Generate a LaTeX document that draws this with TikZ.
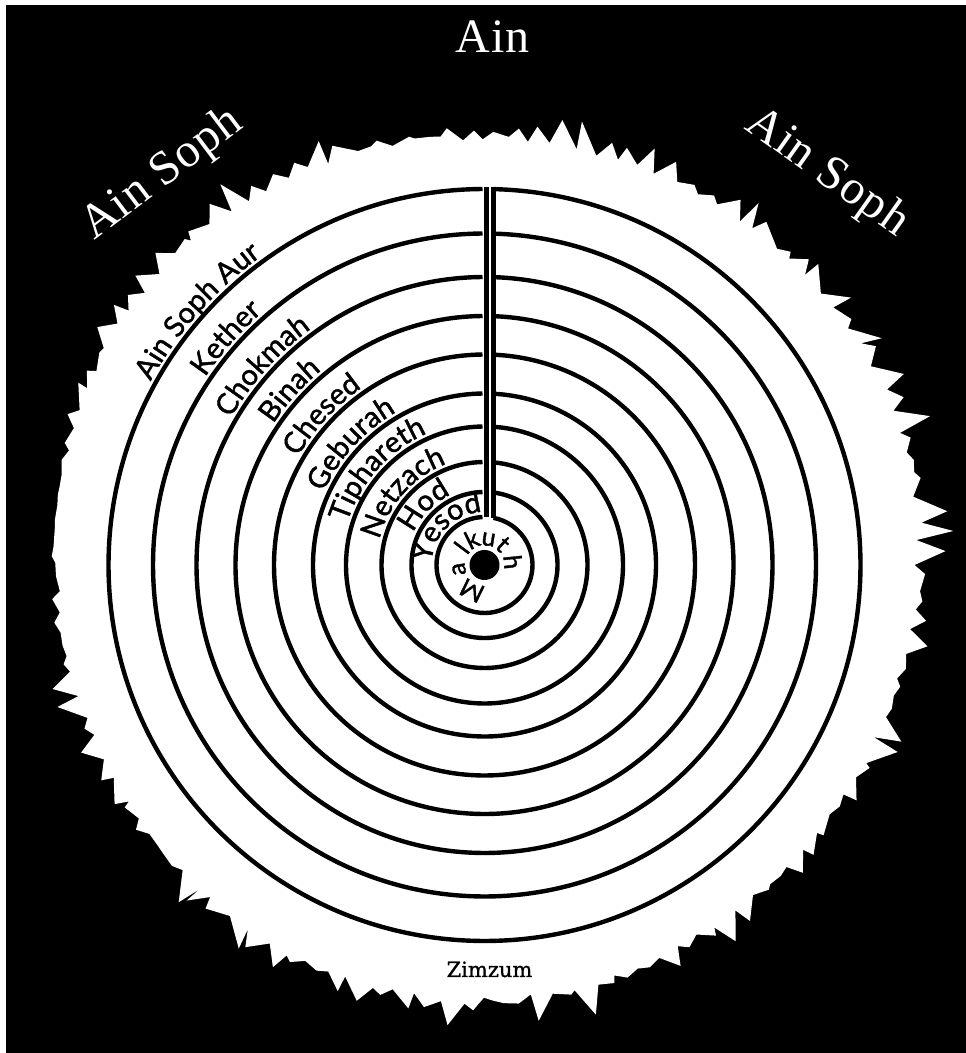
\documentclass[tikz,border=0pt]{standalone}
\usepackage{fontspec}
\setmainfont{Liberation Serif}
\newfontfamily\ainfont[LetterSpace=2]{Liberation Serif}
\newfontfamily\labfont[FakeBold=1.5]{Lato}
\newfontfamily\zimfont[FakeBold=1]{DejaVu Serif}
\usetikzlibrary{decorations.text}
\tikzset{
  ring/.style={draw=black, line width=4.4pt},
  channel/.style={draw=black, line width=4.4pt, line cap=butt},
  outertext/.style={text=white, font=\ainfont\fontsize{48}{48}\selectfont, inner sep=0pt, anchor=base},
  ringlabel/.style={decorate, decoration={text along path, text align=center,
      text={|\labfont\fontsize{29}{29}\selectfont|#1}}},
  mletter/.style={font=\labfont\fontsize{25}{25}\selectfont, inner sep=0pt, anchor=base}
}
\begin{document}
\begin{tikzpicture}[x=1pt,y=1pt]
\useasboundingbox (0,0) rectangle (966,1053);
\fill[white] (0,0) rectangle (966,1053);
\fill[black] (6,0) rectangle (966,1048);

% outer texts
\node[outertext] (ain) at (492.5,1000) {Ain};
\node[outertext, rotate=37] (aslf) at (169.5,869) {Ain Soph};
\node[outertext, rotate=-35.3] (asrt) at (820,870.5) {Ain Soph};

\begin{scope}[shift={(484.5,488)}]
  \coordinate (C) at (0,0);
  % jagged white field (Zimzum)
  \pgfmathsetseed{23}
  \fill[white] (0:430) \foreach \i in {1,...,239} { -- ({\i*1.5+0.5*(2*rnd-1)}:{428+6*sin(3*\i*1.5+40)+7*rnd+isodd(\i)*(3+32*rnd^3)}) } -- cycle;

  % concentric circles, opened at the channel
  \foreach \r/\n in {376/1,331.5/2,288/3,249/4,210.5/5,171.5/6,138.5/7,103/8,73/9,48/10} {
    \draw[ring] ({90-asin(9/\r)}:\r) coordinate (c\n) arc[start angle={90-asin(9/\r)}, end angle={90+asin(2/\r)-360}, radius=\r pt];
  }
  % channel
  \coordinate (chLt) at (2,378);
  \coordinate (chLb) at (2,47.96);
  \coordinate (chRt) at (9,378);
  \coordinate (chRb) at (9,47.15);
  \draw[channel] (chLt) -- (chLb);
  \draw[channel] (chRt) -- (chRb);

  % central dot
  \fill[black] (C) circle[radius=15pt];

  % ring labels
  \path[ringlabel={Ain Soph Aur}] (218.5:381) arc[start angle=218.5, end angle=58.5, radius=381pt];
  \path[ringlabel={Kether}] (208.7:336.5) arc[start angle=208.7, end angle=68.7, radius=336.5pt];
  \path[ringlabel={Chokmah}] (208.1:293) arc[start angle=208.1, end angle=68.1, radius=293pt];
  \path[ringlabel={Binah}] (208.1:254) arc[start angle=208.1, end angle=68.1, radius=254pt];
  \path[ringlabel={Chesed}] (212.3:215.5) arc[start angle=212.3, end angle=62.3, radius=215.5pt];
  \path[ringlabel={Geburah}] (217.8:176.5) arc[start angle=217.8, end angle=57.8, radius=176.5pt];
  \path[ringlabel={Tiphareth}] (223.2:143.5) arc[start angle=223.2, end angle=53.2, radius=143.5pt];
  \path[ringlabel={Netzach}] (228.5:108) arc[start angle=228.5, end angle=48.5, radius=108pt];
  \path[ringlabel={Hod}] (225.6:78) arc[start angle=225.6, end angle=45.6, radius=78pt];
  \path[ringlabel={Yesod}] (230:53) arc[start angle=230, end angle=40, radius=53pt];

  % Malkuth around the dot
  \foreach \ch/\a [count=\k] in {M/244,a/189,l/143,k/116,u/81,t/48,h/6} {
    \node[mletter, rotate=\a-90] (mk\k) at (\a:19.5) {\ch};
  }
\end{scope}

\node[font=\zimfont\fontsize{21}{21}\selectfont, inner sep=0pt, anchor=base] (zim) at (489.5,76) {Zimzum};
\end{tikzpicture}
\end{document}
